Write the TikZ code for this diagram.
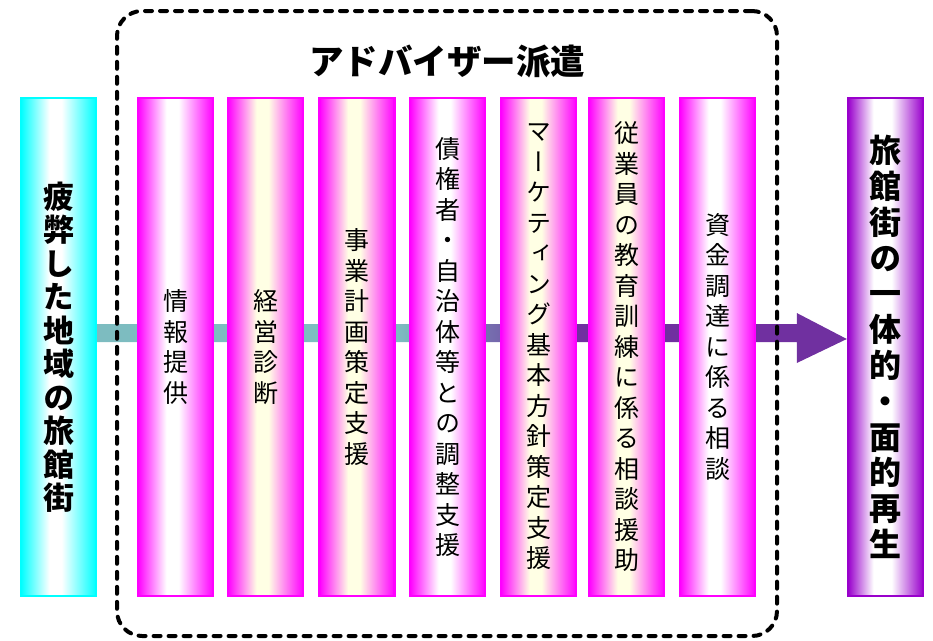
\documentclass[tikz,border=0pt]{standalone}
\usepackage{fontspec}
\newfontfamily\jp{Noto Sans CJK JP}
\newfontfamily\jpv[RawFeature=+vert]{Noto Sans CJK JP}
\usetikzlibrary{calc}
\pgfdeclarelayer{bg}
\pgfsetlayers{bg,main}
\definecolor{mag}{HTML}{FF00FF}
\definecolor{cyn}{HTML}{00FFFF}
\definecolor{pur}{HTML}{9900CC}
\definecolor{cream}{HTML}{FFFFE4}
\definecolor{tealA}{HTML}{7DBCC0}
\definecolor{purA}{HTML}{7030A0}
\pgfdeclarehorizontalshading{pinkW}{100bp}{color(0bp)=(mag); color(25bp)=(mag); color(44bp)=(white); color(52bp)=(white); color(75bp)=(mag); color(100bp)=(mag)}
\pgfdeclarehorizontalshading{pinkY}{100bp}{color(0bp)=(mag); color(25bp)=(mag); color(44bp)=(cream); color(52bp)=(cream); color(75bp)=(mag); color(100bp)=(mag)}
\pgfdeclarehorizontalshading{cyanW}{100bp}{color(0bp)=(cyn); color(25bp)=(cyn); color(44bp)=(white); color(52bp)=(white); color(75bp)=(cyn); color(100bp)=(cyn)}
\pgfdeclarehorizontalshading{purW}{100bp}{color(0bp)=(pur); color(25bp)=(pur); color(42bp)=(white); color(54bp)=(white); color(75bp)=(pur); color(100bp)=(pur)}
\pgfdeclarehorizontalshading{arrowsh}{100bp}{color(0bp)=(tealA); color(45bp)=(tealA); color(56bp)=(purA); color(100bp)=(purA)}
\tikzset{
  colbox/.style={minimum width=75pt, minimum height=498pt, line width=2.4pt, inner sep=0pt, align=center, text=black},
  pinkbox/.style={colbox, draw=mag, shade, shading=pinkW, font=\jpv\fontsize{25}{30.5}\selectfont},
  pinkboxY/.style={pinkbox, shading=pinkY},
  leftbox/.style={colbox, draw=cyn, shade, shading=cyanW, font=\jpv\bfseries\fontsize{31}{33.5}\selectfont},
  rightbox/.style={colbox, draw=pur, shade, shading=purW, font=\jpv\bfseries\fontsize{32}{35.8}\selectfont},
  titletext/.style={font=\jp\bfseries\fontsize{34.5}{37}\selectfont, inner sep=0pt},
  framebox/.style={draw=black, line width=4pt, dash pattern=on 7pt off 8pt, line cap=round, rounded corners=25pt, minimum width=660pt, minimum height=625pt, inner sep=0pt}
}
\begin{document}
\begin{tikzpicture}[x=1pt, y=-1pt]
\useasboundingbox (0,0) rectangle (933,640);
\node[framebox] (F) at (447,323.5) {};
\node[titletext] (T) at (447,61) {アドバイザー派遣};
\node[leftbox] (L) at (58.5,347) {疲\\弊\\し\\た\\地\\域\\の\\旅\\館\\街};
\node[rightbox] (R) at (885.5,347) {旅\\館\\街\\の\\一\\体\\的\\・\\面\\的\\再\\生};
\node[pinkbox] (B1) at (175.5,347) {情\\報\\提\\供};
\node[pinkboxY] (B2) at (265.5,347) {経\\営\\診\\断};
\node[pinkboxY] (B3) at (357,347) {事\\業\\計\\画\\策\\定\\支\\援};
\node[pinkbox] (B4) at (447.5,347) {債\\権\\者\\・\\自\\治\\体\\等\\と\\の\\調\\整\\支\\援};
\node[pinkboxY] (B5) at (538.5,347) {マ\\ー\\ケ\\テ\\ィ\\ン\\グ\\基\\本\\方\\針\\策\\定\\支\\援};
\node[pinkboxY] (B6) at (626.5,347) {従\\業\\員\\の\\教\\育\\訓\\練\\に\\係\\る\\相\\談\\援\\助};
\node[pinkbox] (B7) at (717.5,347) {資\\金\\調\\達\\に\\係\\る\\相\\談};
\begin{pgfonlayer}{bg}
\shade[shading=arrowsh]
  ($(L.east)+(0,-23)$) -- ($(R.west)+(-50,-23)$) -- ($(R.west)+(-50,-34)$)
  -- ($(R.west)+(0,-8)$) -- ($(R.west)+(-50,16)$) -- ($(R.west)+(-50,-5)$)
  -- ($(L.east)+(0,-5)$) -- cycle;
\end{pgfonlayer}
\end{tikzpicture}
\end{document}
